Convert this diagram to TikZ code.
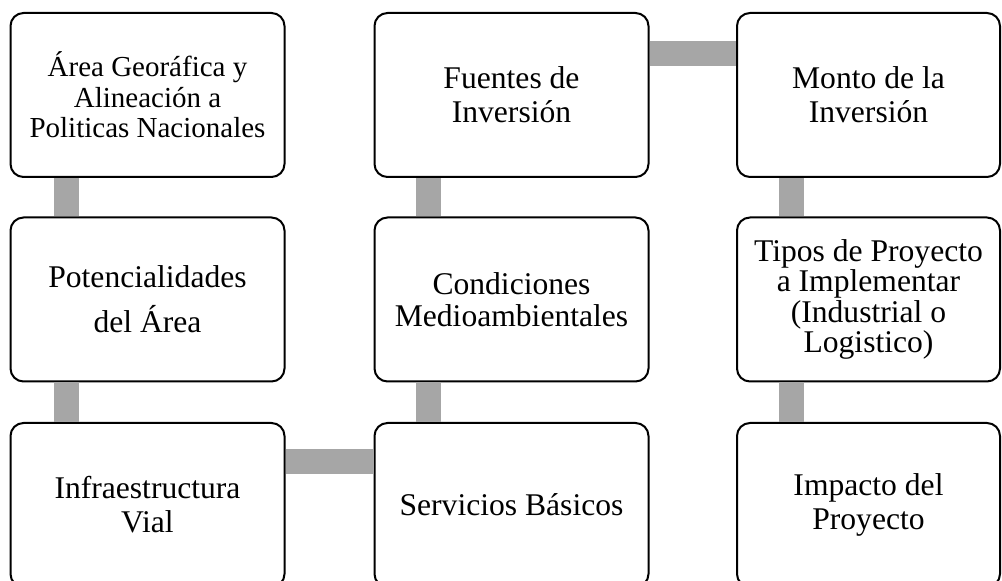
\documentclass[tikz,border=0pt]{standalone}
\usepackage{fontspec}
\setmainfont{Liberation Serif}
\usetikzlibrary{calc}
\definecolor{barragris}{RGB}{166,166,166}
\tikzset{
  caja/.style={draw=black, line width=1pt, fill=white, rounded corners=6.5pt,
    minimum width=137pt, minimum height=82pt, inner sep=2pt, align=center,
    font=\fontsize{15.8}{17}\selectfont},
  barra/.style={draw=barragris, line width=12.5pt}
}
\begin{document}
\begin{tikzpicture}[x=0.5pt,y=-0.5pt]
\clip (0,0) rectangle (1002,581);
\node[caja, font=\fontsize{14.5}{15.2}\selectfont] (ag) at (147.5,95) {Área Georáfica y\\Alineación a\\Politicas Nacionales};
\node[caja, font=\fontsize{15.8}{22.5}\selectfont] (pa) at (147.5,299.5) {Potencialidades\\del Área};
\draw[barra] ($(ag.south west)+(56.5,0)$) -- ($(pa.north west)+(56.5,0)$);
\node[caja] (iv) at (147.5,505) {Infraestructura\\Vial};
\draw[barra] ($(pa.south west)+(56.5,0)$) -- ($(iv.north west)+(56.5,0)$);
\node[caja] (sb) at (511.5,505) {Servicios Básicos};
\draw[barra] ($(iv.north east)+(0,40)$) -- ($(sb.north west)+(0,40)$);
\node[caja, font=\fontsize{15.8}{16}\selectfont] (cm) at (511.5,299.5) {Condiciones\\Medioambientales};
\draw[barra] ($(sb.north west)+(54.5,0)$) -- ($(cm.south west)+(54.5,0)$);
\node[caja] (fi) at (511.5,95) {Fuentes de\\Inversión};
\draw[barra] ($(cm.north west)+(54.5,0)$) -- ($(fi.south west)+(54.5,0)$);
\node[caja, minimum width=131.5pt] (mi) at (868.5,95) {Monto de la\\Inversión};
\draw[barra] ($(fi.north east)+(0,41.5)$) -- ($(mi.north west)+(0,41.5)$);
\node[caja, minimum width=131.5pt, font=\fontsize{15.8}{15.3}\selectfont] (tp) at (868.5,299.5) {Tipos de Proyecto\\a Implementar\\(Industrial o\\Logistico)};
\draw[barra] ($(mi.south west)+(55.5,0)$) -- ($(tp.north west)+(55.5,0)$);
\node[caja, minimum width=131.5pt] (ip) at (868.5,505) {Impacto del\\Proyecto};
\draw[barra] ($(tp.south west)+(55.5,0)$) -- ($(ip.north west)+(55.5,0)$);
\end{tikzpicture}
\end{document}
